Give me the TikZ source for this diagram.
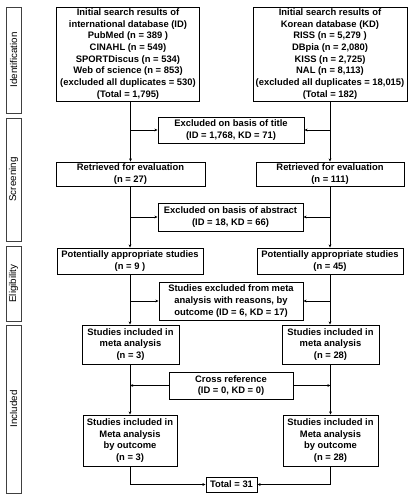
\documentclass[tikz,border=0pt]{standalone}
\usepackage{fontspec}
\setsansfont{Liberation Sans}
\usetikzlibrary{positioning,calc,arrows,arrows.meta}
\tikzset{font=\sffamily\bfseries\fontsize{9.4}{11.7}\selectfont}
\tikzset{box/.style={draw, line width=0.9pt, align=center, inner sep=1pt},
	phase/.style={draw=black!75, line width=0.8pt, rotate=90, minimum height=15pt, inner sep=0pt,
		font=\sffamily\fontsize{9.8}{11}\selectfont}}

\begin{document}
\begin{tikzpicture}[x=1pt, y=-1pt]
	\useasboundingbox (0,0) rectangle (417,502);
	% phases
	\node[phase, minimum width=106pt] (ph1) at (13.5, 60) {Identification};
	\node[phase, minimum width=123pt] (ph2) at (13.5, 179.5) {Screening};
	\node[phase, minimum width=75pt] (ph3) at (13.5, 283.5) {Eligibility};
	\node[phase, minimum width=168pt] (ph4) at (13.5, 409) {Included};

	\tikzstyle{every node}=[box]
	% left column (ID)
	\node[minimum width=143pt, minimum height=94pt] (id) at (128, 54) {Initial search results of\\ international database (ID)\\ PubMed (n = 389 )\\ CINAHL (n = 549)\\ SPORTDiscus (n = 534)\\ Web of science (n = 853)\\ (excluded all duplicates = 530)\\ (Total = 1,795)};
	\node[minimum width=149pt, minimum height=24pt] (ret1) at (130.5, 174) {Retrieved for evaluation\\ (n = 27)};
	\node[minimum width=146pt, minimum height=26pt] (pot1) at (130, 261) {Potentially appropriate studies\\ (n = 9 )};
	\node[minimum width=97pt, minimum height=39pt] (meta1) at (130.5, 344.5) {Studies included in\\ meta analysis\\ (n = 3)};
	\node[minimum width=94pt, minimum height=51pt] (out1) at (130, 440.5) {Studies included in\\ Meta analysis\\ by outcome\\ (n = 3)};

	% right column (KD)
	\node[minimum width=154pt, minimum height=94pt] (kd) at (330, 54) {Initial search results of\\ Korean database (KD)\\ RISS (n = 5,279 )\\ DBpia (n = 2,080)\\ KISS (n = 2,725)\\ NAL (n = 8,113)\\ (excluded all duplicates = 18,015)\\ (Total = 182)};
	\node[minimum width=148pt, minimum height=24pt] (ret2) at (330, 174) {Retrieved for evaluation\\ (n = 111)};
	\node[minimum width=146pt, minimum height=26pt] (pot2) at (330, 261) {Potentially appropriate studies\\ (n = 45)};
	\node[minimum width=97pt, minimum height=39pt] (meta2) at (330.5, 344.5) {Studies included in\\ meta analysis\\ (n = 28)};
	\node[minimum width=95pt, minimum height=51pt] (out2) at (330.5, 440.5) {Studies included in\\ Meta analysis\\ by outcome\\ (n = 28)};

	% middle
	\node[minimum width=146pt, minimum height=26pt] (extitle) at (231, 130) {Excluded on basis of title\\ (ID = 1,768, KD = 71)};
	\node[minimum width=145pt, minimum height=28pt] (exabs) at (230.5, 217) {Excluded on basis of abstract\\ (ID = 18, KD = 66)};
	\node[minimum width=144pt, minimum height=38pt] (exmeta) at (231, 301) {Studies excluded from meta\\ analysis with reasons, by\\ outcome (ID = 6, KD = 17)};
	\node[minimum width=124pt, minimum height=27pt] (cross) at (231, 385.5) {Cross reference\\ (ID = 0, KD = 0)};
	\node[minimum width=51pt, minimum height=15pt] (tot) at (231.5, 484.5) {Total = 31};

	\tikzset{every path/.style={line width=0.9pt, >={Stealth[length=3.2pt, width=2.8pt]}}}
	% left flow
	\draw [->] (ret1 |- id.south) to (ret1.north);
	\draw [->] (extitle.west -| ret1) to (extitle.west);
	\draw [->] (ret1.south -| pot1) to (pot1.north);
	\draw [->] (exabs.west -| pot1) to (exabs.west);
	\draw [->] (pot1.south) to (pot1.south |- meta1.north);
	\draw [->] (exmeta.west -| pot1) to (exmeta.west);
	\draw [->] (meta1.south -| out1) to (out1.north);
	\draw [->] (cross.west) to (cross.west -| out1);
	\draw [->] (out1.south) |- (tot.west);

	% right flow
	\draw [->] (ret2 |- kd.south) to (ret2.north);
	\draw [->] (extitle.east -| ret2) to (extitle.east);
	\draw [->] (ret2.south) to (pot2.north);
	\draw [->] (exabs.east -| pot2) to (exabs.east);
	\draw [->] (pot2.south) to (pot2.south |- meta2.north);
	\draw [->] (exmeta.east -| pot2) to (exmeta.east);
	\draw [->] (out2 |- meta2.south) to (out2.north);
	\draw [->] (cross.east) to (cross.east -| out2);
	\draw [->] (out2.south) |- (tot.east);
\end{tikzpicture}
\end{document}
